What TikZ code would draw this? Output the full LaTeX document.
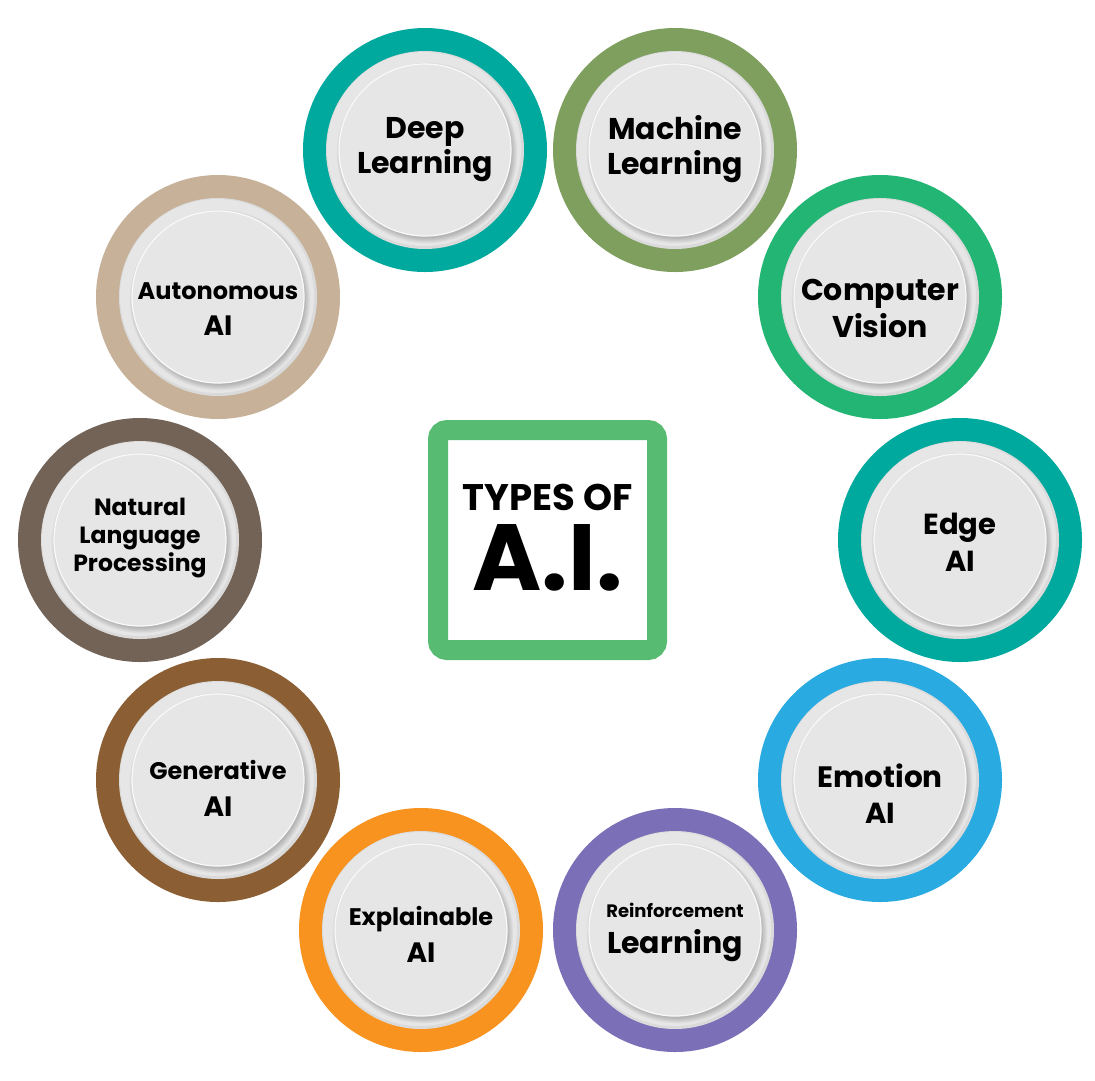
\documentclass[tikz,border=0pt]{standalone}
\usepackage{fontspec}
\setmainfont{Poppins}
\definecolor{cDeep}{HTML}{00A99D}
\definecolor{cMach}{HTML}{7E9F5E}
\definecolor{cCV}{HTML}{22B573}
\definecolor{cEdge}{HTML}{00A99D}
\definecolor{cEmo}{HTML}{29ABE2}
\definecolor{cReinf}{HTML}{7B6FB8}
\definecolor{cExpl}{HTML}{F7931E}
\definecolor{cGen}{HTML}{8B5E34}
\definecolor{cNLP}{HTML}{736357}
\definecolor{cAuto}{HTML}{C7B299}
\definecolor{cBox}{HTML}{58BB72}
\definecolor{diskgray}{HTML}{E6E6E6}
\newcommand\fs[1]{\fontsize{#1}{\baselineskip}\selectfont}
\tikzset{
  ring/.style={circle, fill=#1, minimum size=244pt, inner sep=0pt},
  outerdisk/.style={fill=diskgray},
  innerdisk/.style={fill=diskgray, draw=white!75!diskgray, line width=1.2pt},
  label/.style={align=center, text=black, inner sep=0pt,
    font=\bfseries\fontsize{10}{#1}\selectfont},
}
\newcommand\aitype[7]{%
  \node[ring=#4] (#1) at (#2,#3) {};
  \fill[outerdisk] (#1.center) circle (99pt);
  \fill[black, opacity=0.05] (#1.center) circle (99pt);
  \fill[diskgray] ([xshift=-1pt,yshift=1pt]#1.center) circle (97pt);
  \foreach \k in {1,...,7}{
    \fill[black, opacity=0.03] ([xshift=2pt,yshift=-3pt]#1.center) circle (84pt+\k*0.9pt);
  }
  \draw[innerdisk] (#1.center) circle (86pt);
  \node[label=#6pt] (#1-t) at (#2,#5) {#7};
}
\begin{document}
\begin{tikzpicture}[x=1pt,y=-1pt]
\useasboundingbox (0,0) rectangle (1095,1080);
\fill[white] (0,0) rectangle (1095,1080);

\aitype{deep}{425}{150}{cDeep}{150}{35}{\fs{30}Deep\\\fs{30}Learning}
\aitype{mach}{675}{150}{cMach}{149}{35}{\fs{30}Machine\\\fs{30}Learning}
\aitype{cv}{880}{297}{cCV}{308}{37}{\fs{30}Computer\\\fs{30}Vision}
\aitype{edge}{960}{540}{cEdge}{542}{37}{\fs{29}Edge\\\fs{29}AI}
\aitype{emo}{880}{780}{cEmo}{794}{36}{\fs{29.5}Emotion\\\fs{29}AI}
\aitype{reinf}{675}{930}{cReinf}{932}{36}{\fs{18}Reinforcement\\\fs{30}Learning}
\aitype{expl}{421}{930}{cExpl}{934}{37}{\fs{24}Explainable\\\fs{28}AI}
\aitype{gen}{218}{780}{cGen}{788}{37}{\fs{24}Generative\\\fs{28}AI}
\aitype{nlp}{140}{540}{cNLP}{538}{28}{\fs{23.5}Natural\\\fs{23.5}Language\\\fs{23.5}Processing}
\aitype{auto}{218}{297}{cAuto}{309}{36}{\fs{24}Autonomous\\\fs{28}AI}

\node[draw=cBox, fill=white, line width=20pt, rounded corners=9pt,
      minimum width=219pt, minimum height=220pt] (box) at (547.5,540) {};
\node[label=80pt] (title) at (547.5,538) {\fs{37}TYPES OF\\\fs{94}A.I.};
\end{tikzpicture}
\end{document}
